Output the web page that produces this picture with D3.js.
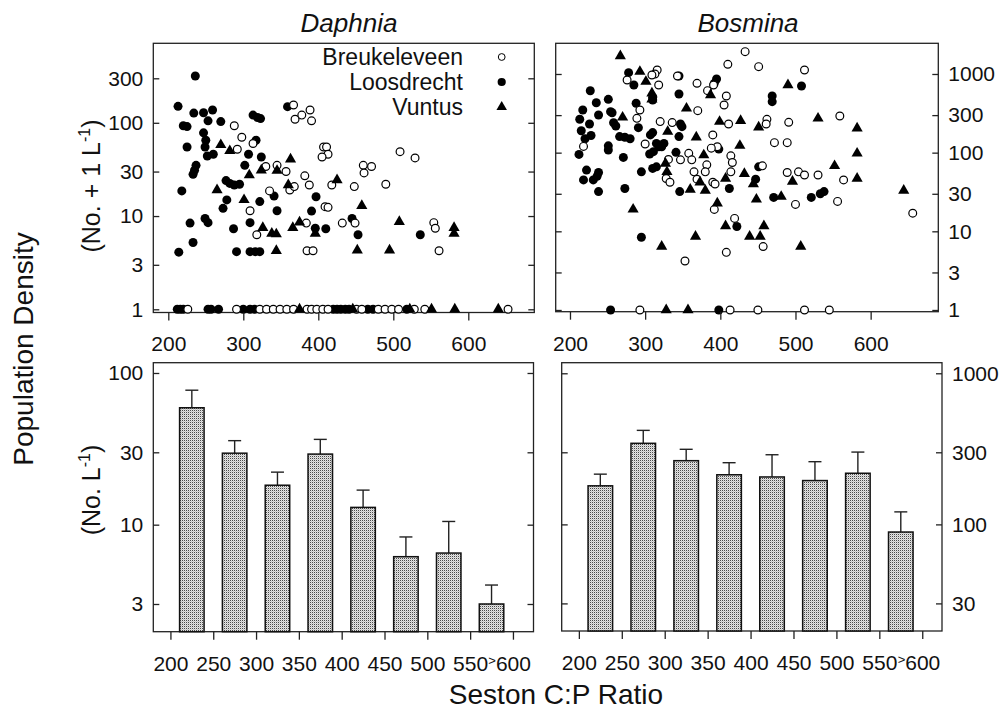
<!DOCTYPE html>
<html>
<head>
<meta charset="utf-8">
<script src="https://cdn.jsdelivr.net/npm/d3@7"></script>
<style>
    body { margin: 0; background: #fff; }
    svg text { font-family: "Liberation Sans", Arial, Helvetica, sans-serif; fill: #111; }
</style>
</head>
<body>
<div id="chart"></div>
<script>

// scatter points: [seston C:P, density (No. + 1 per L)]
const daphniaBreuk = [
    [367,155],[369,109],[378,121],[389,137],[391,105],[288,93],[298,70],[313,60],[292,52],
    [330,34],[345,35],[357,30],[362,19],[368,20.7],[335,18.6],[382,27],[388,21.5],[407,55],
    [411,55],[413,46],[405,43],[418,21.5],[448,20.7],[460,35],[471,34],[461,29],[490,21.9],
    [509,49],[529,42],[409,12.6],[413,12.4],[309,11.4],[318,6.3],[384,8.4],[432,8.4],[449,8.4],
    [554,8.5],[556,7.4],[561,4.25],[385,4.25],[393,4.25],
    [226,1],[291,1],[322,1],[331,1],[340,1],[349,1],[358,1],[367,1],[385,1],[391,1],[398,1],
    [406,1],[413,1],[451,1],[458,1],[480,1],[489,1],[498,1],[507,1],[528,1],[542,1],[653,1]
];
const daphniaLoos = [
    [236,318],[213,150],[247,128],[259,137],[270,103],[313,121],[319,114],[323,111],[220,93],
    [225,91],[247,78],[250,65],[249,55],[225,55],[252,44],[260,46],[307,46],[302,35],[324,43],
    [317,65],[237,35],[235,31],[233,28],[277,24],[282,22.4],[288,21.5],[295,21.9],[278,14.9],
    [273,12.1],[218,18.6],[322,14.3],[341,16.4],[345,11.4],[397,16.1],[391,11.3],[229,8.4],
    [249,9.4],[253,8.5],[287,7.3],[309,8.5],[233,5.2],[291,4.15],[309,4.15],[316,4.15],
    [322,4.15],[214,4.1],[396,7.4],[410,7.3],[445,9.4],[453,6.3],[536,6.3],[359,149],[253,105],
    [234,127],
    [212,1],[216,1],[220,1],[253,1],[257,1],[267,1],[300,1],[309,1],[315,1],[420,1],[425,1],
    [430,1],[436,1],[441,1],[466,1],[473,1],[518,1]
];
const daphniaVuntus = [
    [270,58],[282,50],[308,27.5],[324,31],[345,30.7],[363,40.6],[360,21.5],[265,19],[301,14.9],
    [326,7.5],[338,6.5],[344,6.4],[366,7.5],[375,8.6],[396,6.5],[425,24.4],[458,12.9],[508,8.7],
    [581,7.5],[581,6.5],[452,4.3],[495,4.3],[344,4.25],
    [375,1],[446,1],[522,1],[551,1],[582,1],[640,1]
];

const bosminaBreuk = [
    [276,839],[289,273],[433,1923],[410,1327],[451,1239],[512,1124],[316,1124],[313,1000],
    [309,971],[318,724],[343,944],[369,761],[383,614],[391,724],[408,525],[405,404],[370,342],
    [293,349],[320,248],[336,241],[411,231],[462,265],[461,231],[491,243],[559,292],[300,129],
    [390,168],[396,119],[388,114],[472,134],[489,134],[358,98],[347,81],[362,81],[331,82],
    [414,91],[416,75],[414,57],[382,70],[380,57],[365,57],[456,68],[369,46],[328,47],[333,42],
    [390,42],[393,40],[489,56],[504,57],[512,52],[530,52],[564,45],[556,24],[500,22],[392,19],
    [419,14.6],[457,6.4],[408,5.4],[353,4.2],[656,17],[218,120],
    [293,1],[413,1],[450,1],[512,1],[545,1]
];
const bosminaLoos = [
    [278,1040],[285,724],[227,613],[235,431],[251,476],[217,349],[238,301],[256,322],[213,266],
    [226,231],[258,240],[261,218],[288,424],[254,332],[273,157],[266,160],[280,150],[291,208],
    [251,122],[251,108],[271,87],[238,56],[236,50],[231,45],[238,32],[273,35],[295,57],[295,8.4],
    [310,505],[310,467],[307,168],[310,180],[306,96],[311,103],[315,131],[318,119],[322,119],
    [325,131],[310,63],[315,66],[345,557],[345,944],[347,231],[349,214],[345,160],[341,101],
    [346,32],[395,864],[392,761],[398,111],[422,11.5],[412,35],[447,46],[451,66],[469,525],
    [469,445],[471,27],[508,703],[521,27],[533,30],[538,32],
    [215,190],[220,150],[212,95],[222,60],[218,45],[228,165],
    [254,1],[398,1]
];
const bosminaVuntus = [
    [267,1694],[293,1071],[301,800],[309,568],[309,476],[387,541],[355,366],[270,281],[330,185],
    [399,248],[427,255],[451,210],[368,157],[426,123],[490,724],[530,273],[582,204],[582,98],
    [582,47],[378,93],[552,68],[327,73],[329,57],[432,54],[444,40],[407,47],[360,34],[380,33],
    [373,42],[448,25.5],[481,27.6],[496,43],[644,33],[396,22.7],[284,19],[407,11.7],[458,11.7],
    [439,8.6],[453,8.6],[367,8.6],[322,6.4],[507,6.4],
    [328,1],[357,1]
];

// bar panels: means and upper SE per C:P class
const binCenters = [225, 275, 325, 375, 425, 475, 525, 575];
const daphniaMean = [59, 29.6, 18.2, 29.2, 13.0, 6.15, 6.5, 3.0];
const daphniaUpper = [77, 35.8, 22.2, 36.5, 16.9, 8.3, 10.5, 4.0];
const bosminaMean = [180, 344, 264, 213, 206, 195, 218, 89];
const bosminaUpper = [215, 419, 314, 256, 289, 260, 301, 121];

// tick values
const topXTicks = [200, 300, 400, 500, 600];
const barXTicks = [200, 250, 300, 350, 400, 450, 500, 550, 600];
const daphniaTopYTicks = [1, 3, 10, 30, 100, 300];
const bosminaTopYTicks = [1, 3, 10, 30, 100, 300, 1000];
const daphniaBarYTicks = [3, 10, 30, 100];
const bosminaBarYTicks = [30, 100, 300, 1000];

const legendItems = [
    {label: "Breukeleveen", kind: "open"},
    {label: "Loosdrecht", kind: "filled"},
    {label: "Vuntus", kind: "tri"}
];

const W = 1002, H = 717;
const TICK_FONT = 21;

const svg = d3.select("#chart").append("svg")
    .attr("width", W)
    .attr("height", H);

// stipple fill for the bars
const pat = svg.append("defs").append("pattern")
    .attr("id", "stipple")
    .attr("width", 2).attr("height", 2)
    .attr("patternUnits", "userSpaceOnUse");
pat.append("rect").attr("width", 2).attr("height", 2).attr("fill", "#e4e4e4");
pat.append("rect").attr("width", 1).attr("height", 1).attr("fill", "#4a4a4a");
pat.append("rect").attr("x", 1).attr("y", 1).attr("width", 1).attr("height", 1).attr("fill", "#c4c4c4");

// panel boxes (pixel edges) and domains
const panels = {
    daphTop: {x0: 153.3, x1: 534.3, y0: 43.3, y1: 312.5, xDom: [180, 688], yDom: [0.924, 712]},
    bosTop:  {x0: 555.7, x1: 938.3, y0: 43.3, y1: 311.7, xDom: [181, 690], yDom: [0.951, 2455]},
    daphBar: {x0: 153.3, x1: 533.5, y0: 362.7, y1: 631.7, xDom: [180, 624], yDom: [1.97, 116.9]},
    bosBar:  {x0: 561.7, x1: 942.0, y0: 362.7, y1: 631.0, xDom: [180, 623], yDom: [19.7, 1175]}
};

function makeScales(p) {
    p.x = d3.scaleLinear().domain(p.xDom).range([p.x0, p.x1]);
    p.y = d3.scaleLog().domain(p.yDom).range([p.y1, p.y0]);
}
Object.values(panels).forEach(makeScales);

function drawFrame(p) {
    svg.append("rect")
        .attr("x", p.x0).attr("y", p.y0)
        .attr("width", p.x1 - p.x0).attr("height", p.y1 - p.y0)
        .attr("fill", "none")
        .attr("stroke", "#222")
        .attr("stroke-width", 1.3);
}

function styleAxis(g, size) {
    g.select(".domain").remove();
    g.selectAll(".tick line").attr("stroke", "#222").attr("stroke-width", 1.3);
    g.selectAll(".tick text").attr("font-size", size).attr("fill", "#111")
        .style("font-family", '"Liberation Sans", Arial, sans-serif');
}

// y axes: inward ticks both sides, labels on one side only
function drawYAxes(p, ticks, labelSide) {
    let left = svg.append("g").attr("transform", `translate(${p.x0},0)`)
        .call(d3.axisLeft(p.y).tickValues(ticks).tickSize(-6).tickPadding(10)
            .tickFormat(labelSide === "left" ? d3.format("d") : ""));
    styleAxis(left, TICK_FONT);
    let right = svg.append("g").attr("transform", `translate(${p.x1},0)`)
        .call(d3.axisRight(p.y).tickValues(ticks).tickSize(-6).tickPadding(10)
            .tickFormat(labelSide === "right" ? d3.format("d") : ""));
    styleAxis(right, TICK_FONT);
}

function drawXAxis(p, ticks, fmt) {
    let g = svg.append("g").attr("transform", `translate(0,${p.y1})`)
        .call(d3.axisBottom(p.x).tickValues(ticks).tickSize(8).tickPadding(16).tickFormat(fmt));
    styleAxis(g, TICK_FONT);
    return g;
}

const tri = d3.symbol(d3.symbolTriangle, 54);

function drawPoints(p, data, kind) {
    let g = svg.append("g");
    if (kind === "tri") {
        g.selectAll("path").data(data).join("path")
            .attr("d", tri)
            .attr("transform", d => `translate(${p.x(d[0])},${p.y(d[1])})`)
            .attr("fill", "#000");
    } else {
        g.selectAll("circle").data(data).join("circle")
            .attr("cx", d => p.x(d[0]))
            .attr("cy", d => p.y(d[1]))
            .attr("r", kind === "open" ? 3.9 : 4.5)
            .attr("fill", kind === "open" ? "#fff" : "#000")
            .attr("stroke", "#000")
            .attr("stroke-width", kind === "open" ? 1.2 : 0);
    }
}

// ---- top scatter panels ----
[["daphTop", daphniaBreuk, daphniaLoos, daphniaVuntus], ["bosTop", bosminaBreuk, bosminaLoos, bosminaVuntus]]
    .forEach(([key, breuk, loos, vunt]) => {
        let p = panels[key];
        drawFrame(p);
        drawPoints(p, loos, "filled");
        drawPoints(p, breuk, "open");
        drawPoints(p, vunt, "tri");
        drawXAxis(p, topXTicks, d3.format("d"));
    });
drawYAxes(panels.daphTop, daphniaTopYTicks, "left");
drawYAxes(panels.bosTop, bosminaTopYTicks, "right");

// legend inside the Daphnia panel
let legend = svg.append("g");
legendItems.forEach((item, i) => {
    let ty = 65 + i * 25;
    legend.append("text")
        .attr("x", 463).attr("y", ty)
        .attr("text-anchor", "end")
        .attr("font-size", 23)
        .text(item.label);
    let cy = ty - 8;
    if (item.kind === "tri") {
        legend.append("path").attr("d", d3.symbol(d3.symbolTriangle, 48))
            .attr("transform", `translate(501.7,${cy})`).attr("fill", "#000");
    } else {
        legend.append("circle").attr("cx", 501.7).attr("cy", cy)
            .attr("r", item.kind === "open" ? 3.4 : 4.1)
            .attr("fill", item.kind === "open" ? "#fff" : "#000")
            .attr("stroke", "#000").attr("stroke-width", item.kind === "open" ? 1 : 0);
    }
});

// ---- bottom bar panels ----
function drawBars(p, means, upper) {
    let halfW = (p.x(239.3) - p.x(210.7)) / 2;
    let g = svg.append("g");
    binCenters.forEach((c, i) => {
        let cx = p.x(c);
        // error bar first so the cap sits above the bar
        g.append("line")
            .attr("x1", cx).attr("x2", cx)
            .attr("y1", p.y(means[i])).attr("y2", p.y(upper[i]))
            .attr("stroke", "#222").attr("stroke-width", 1.4);
        g.append("line")
            .attr("x1", cx - 6.5).attr("x2", cx + 6.5)
            .attr("y1", p.y(upper[i])).attr("y2", p.y(upper[i]))
            .attr("stroke", "#222").attr("stroke-width", 1.4);
        g.append("rect")
            .attr("x", cx - halfW).attr("y", p.y(means[i]))
            .attr("width", halfW * 2).attr("height", p.y1 - p.y(means[i]))
            .attr("fill", "url(#stipple)")
            .attr("stroke", "#111").attr("stroke-width", 1.5);
    });
}

[["daphBar", daphniaMean, daphniaUpper, daphniaBarYTicks, "left"],
 ["bosBar", bosminaMean, bosminaUpper, bosminaBarYTicks, "right"]]
    .forEach(([key, means, upper, yTicks, side]) => {
        let p = panels[key];
        drawFrame(p);
        drawBars(p, means, upper);
        drawYAxes(p, yTicks, side);
        let ax = drawXAxis(p, barXTicks, d3.format("d"));
        // the last class is open-ended: small ">" in front of 600
        let last = ax.selectAll(".tick text").filter(d => d === 600);
        let half = last.node().getComputedTextLength() / 2;
        svg.append("text")
            .attr("x", p.x(600) - half + 0.5)
            .attr("y", p.y1 + 33)
            .attr("text-anchor", "end")
            .attr("font-size", 13)
            .text(">");
    });

// ---- titles and axis labels ----
svg.append("text").attr("x", 349).attr("y", 32).attr("text-anchor", "middle")
    .attr("font-size", 26).attr("font-style", "italic").text("Daphnia");
svg.append("text").attr("x", 748).attr("y", 32).attr("text-anchor", "middle")
    .attr("font-size", 26).attr("font-style", "italic").text("Bosmina");

svg.append("text")
    .attr("transform", "translate(33,349) rotate(-90)")
    .attr("text-anchor", "middle")
    .attr("font-size", 28)
    .text("Population Density");

function unitLabel(cx, cy, before) {
    let t = svg.append("text")
        .attr("transform", `translate(${cx},${cy}) rotate(-90)`)
        .attr("text-anchor", "middle")
        .attr("font-size", 25);
    t.append("tspan").text(before);
    t.append("tspan").attr("font-size", 16).attr("dy", -10).text("-1");
    t.append("tspan").attr("dy", 10).text(")");
}
unitLabel(100, 186, "(No. + 1 L");
unitLabel(100, 490, "(No. L");

svg.append("text")
    .attr("x", 556).attr("y", 704)
    .attr("text-anchor", "middle")
    .attr("font-size", 28)
    .text("Seston C:P Ratio");

</script>
</body>
</html>
